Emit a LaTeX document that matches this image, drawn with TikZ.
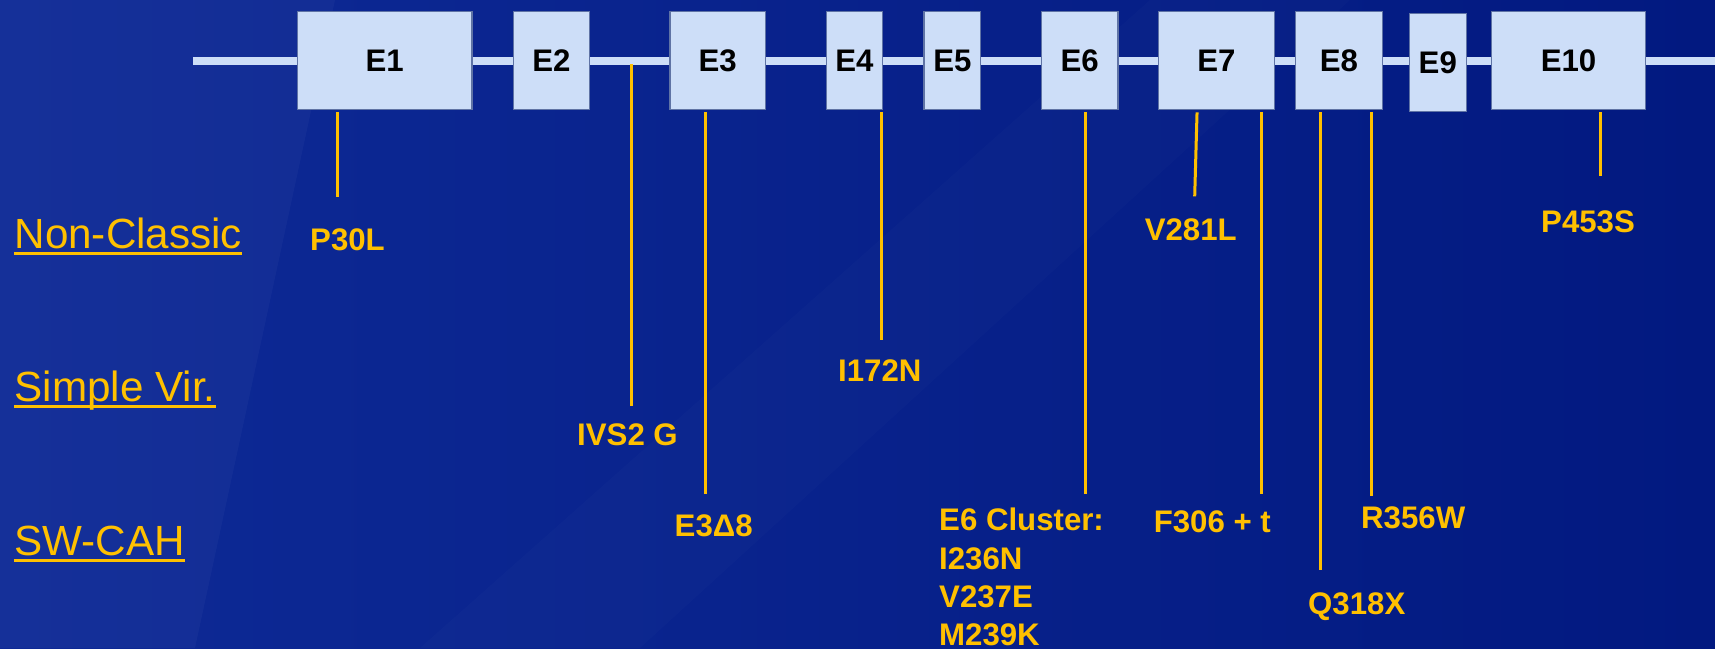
\documentclass[tikz,border=0pt]{standalone}
\usepackage{fontspec}
\setmainfont{Liberation Sans}
\usetikzlibrary{calc}
\definecolor{bgleft}{RGB}{14,42,150}
\definecolor{bgright}{RGB}{2,25,128}
\definecolor{exonfill}{RGB}{205,222,248}
\definecolor{exonedge}{RGB}{95,115,165}
\definecolor{mutyellow}{RGB}{255,192,0}
\begin{document}
\begin{tikzpicture}
         [x=1pt, y=-1pt,
          exon box/.style={rectangle,draw=exonedge,line width=1.5pt,fill=exonfill,minimum height=98pt,inner sep=0pt,
                           text height=22.4pt,text depth=0pt,font=\fontsize{31.2pt}{36pt}\bfseries,text=black},
          mut line/.style={draw=mutyellow,line width=3pt,shorten <=2.4pt},
          mut label/.style={inner sep=0pt,text=mutyellow,font=\fontsize{31.2pt}{38.3pt}\bfseries},
          class label/.style={inner sep=0pt,anchor=base west,text=mutyellow,font=\fontsize{42.2pt}{48pt}\selectfont},
          under line/.style={draw=mutyellow,line width=3pt}]
         \useasboundingbox (0,0) rectangle (1715,648);
         \shade[left color=bgleft, right color=bgright] (0,0) rectangle (1715,648);
         \fill[white, opacity=0.03] (0,648) -- (195,648) -- (335,0) -- (0,0) -- cycle;
         \fill[white, opacity=0.015] (420,648) -- (640,648) -- (1350,0) -- (1150,0) -- cycle;
         
         % gene backbone
         \draw[exonfill, line width=8pt] (193.4,60.5) -- (1715,60.5);
         
         % exons
         \node[exon box, minimum width=174.6pt] (e1) at (384.7,60.3) {E1};
         \node[exon box, minimum width=75.9pt] (e2) at (551.4,60.3) {E2};
         \node[exon box, minimum width=95.3pt] (e3) at (717.6,60.3) {E3};
         \node[exon box, minimum width=56.3pt] (e4) at (854.5,60.3) {E4};
         \node[exon box, minimum width=56.4pt] (e5) at (952.4,60.3) {E5};
         \node[exon box, minimum width=76.7pt] (e6) at (1079.6,60.3) {E6};
         \node[exon box, minimum width=116.1pt] (e7) at (1216.5,60.3) {E7};
         \node[exon box, minimum width=87.4pt] (e8) at (1339,60.3) {E8};
         \node[exon box, minimum width=57pt, minimum height=98.4pt] (e9) at (1437.8,62.5) {E9};
         \node[exon box, minimum width=154.4pt] (e10) at (1568.5,60.3) {E10};
         
         % classes
         \node[class label] (nc) at (14.4,248.3) {Non-Classic};
         \node[class label] (sv) at (14.4,401.7) {Simple Vir.};
         \node[class label] (sw) at (14.4,555) {SW-CAH};
         \draw[under line] ($(nc.base west)+(0,5)$) -- ($(nc.base east)+(0,5)$);
         \draw[under line] ($(sv.base west)+(0,5)$) -- ($(sv.base east)+(0,5)$);
         \draw[under line] ($(sw.base west)+(0,5)$) -- ($(sw.base east)+(0,5)$);
         
         % mutations
         \node[mut label, anchor=base west] (p30l) at (310,250.3) {P30L};
         \node[mut label, anchor=base west] (v281l) at (1144.6,240.7) {V281L};
         \node[mut label, anchor=base west] (p453s) at (1541,232.4) {P453S};
         \node[mut label, anchor=base west] (i172n) at (838,381.7) {I172N};
         \node[mut label, anchor=base west] (ivs2) at (577,445.6) {IVS2 G};
         \node[mut label, anchor=base west] (e3d8) at (674.5,536.8) {E3Δ8};
         \node[mut label, anchor=north west, align=left] (e6c) at (939,508) {E6 Cluster:\\I236N\\V237E\\M239K};
         \node[mut label, anchor=base west] (f306) at (1153.6,532.6) {F306 + t};
         \node[mut label, anchor=base west] (r356w) at (1361,528) {R356W};
         \node[mut label, anchor=base west] (q318x) at (1308,614.4) {Q318X};
         
         \coordinate (p30l end) at (337,196.7);
         \coordinate (ivs top) at (631.5,64.3);
         \coordinate (ivs end) at (631.5,405.7);
         \coordinate (e3d8 end) at (705.3,494.3);
         \coordinate (i172n end) at (881.7,340);
         \coordinate (e6c end) at (1085.3,494);
         \coordinate (v281l end) at (1194.7,196.3);
         \coordinate (f306 end) at (1261.5,494);
         \coordinate (q318x end) at (1320.5,570);
         \coordinate (r356w end) at (1371.2,496);
         \coordinate (p453s end) at (1600,176);
         
         \draw[mut line] (e1.south -| p30l end) -- (p30l end);
         \draw[mut line, shorten <=0pt] (ivs top) -- (ivs end);
         \draw[mut line] (e3.south -| e3d8 end) -- (e3d8 end);
         \draw[mut line] (e4.south -| i172n end) -- (i172n end);
         \draw[mut line] (e6.south -| e6c end) -- (e6c end);
         \draw[mut line] ($(e7.south west)+(39.4,0)$) -- (v281l end);
         \draw[mut line] (e7.south -| f306 end) -- (f306 end);
         \draw[mut line] (e8.south -| q318x end) -- (q318x end);
         \draw[mut line] (e8.south -| r356w end) -- (r356w end);
         \draw[mut line] (e10.south -| p453s end) -- (p453s end);
      \end{tikzpicture}
\end{document}
